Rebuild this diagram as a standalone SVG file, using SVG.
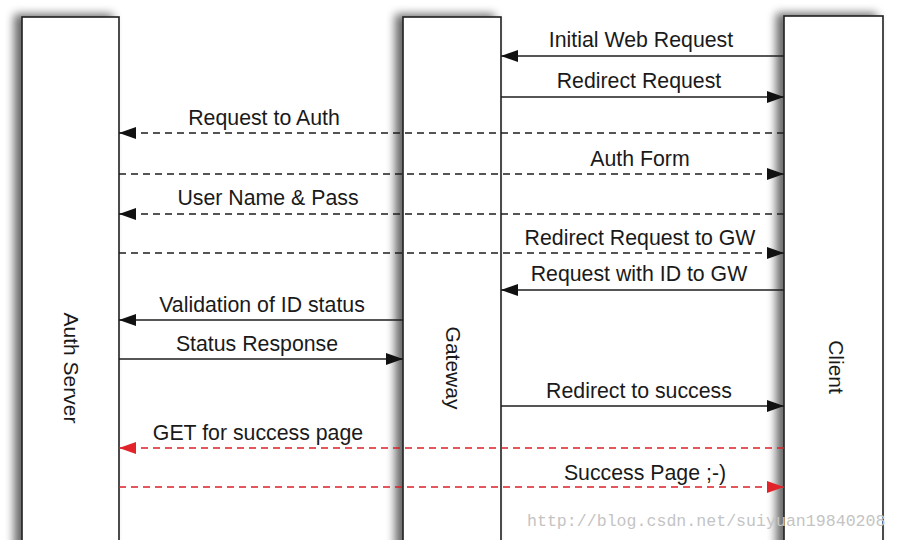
<svg xmlns="http://www.w3.org/2000/svg" width="897" height="540" viewBox="0 0 897 540">
<style>
.box{fill:#fff;stroke:#1e1e1e;stroke-width:1.6;filter:url(#sh)}
.lbl{font-family:"Liberation Sans",Arial,sans-serif;font-size:21.3px;fill:#1a1a1a;text-anchor:middle}
.nl{font-family:"Liberation Sans",Arial,sans-serif;font-size:21px;fill:#1a1a1a;text-anchor:middle}
.s{stroke:#1e1e1e;stroke-width:1.6;fill:none}
.d{stroke:#1e1e1e;stroke-width:1.4;fill:none;stroke-dasharray:7 5}
.r{stroke:#dc1f26;stroke-width:1.3;fill:none;stroke-dasharray:7 5}
.wm{font-family:"Liberation Mono","DejaVu Sans Mono",monospace;font-size:16.6px;fill:#c4c4c4}
</style>
<defs>
<filter id="sh" x="-40%" y="-10%" width="160%" height="120%">
<feGaussianBlur in="SourceAlpha" stdDeviation="5"/>
<feOffset dx="-7" dy="-2" result="b"/>
<feComponentTransfer><feFuncA type="linear" slope="0.6"/></feComponentTransfer>
<feMerge><feMergeNode/><feMergeNode in="SourceGraphic"/></feMerge>
</filter>
<marker id="ab" markerUnits="userSpaceOnUse" markerWidth="17" markerHeight="12" refX="17" refY="6" orient="auto">
<path d="M0,0 L17,6 L0,12 Z" fill="#111"/>
</marker>
<marker id="ar" markerUnits="userSpaceOnUse" markerWidth="17" markerHeight="12" refX="17" refY="6" orient="auto">
<path d="M0,0 L17,6 L0,12 Z" fill="#e0242a"/>
</marker>
</defs>
<rect width="897" height="540" fill="#fff"/>
<g id="auth-server">
<rect class="box" x="22" y="17" width="97" height="540"/>
<text class="nl" transform="translate(71,368) rotate(90)" dy="7">Auth Server</text>
</g>
<g id="gateway">
<rect class="box" x="403" y="17" width="98" height="540"/>
<text class="nl" transform="translate(453,368) rotate(90)" dy="7">Gateway</text>
</g>
<g id="client">
<rect class="box" x="784" y="16" width="99" height="540"/>
<text class="nl" transform="translate(836,367) rotate(90)" dy="7">Client</text>
</g>
<g id="connectors">
<line class="s" x1="784" y1="56" x2="501" y2="56" marker-end="url(#ab)"/>
<line class="s" x1="501" y1="97" x2="784" y2="97" marker-end="url(#ab)"/>
<line class="d" x1="784" y1="133" x2="119" y2="133" marker-end="url(#ab)"/>
<line class="d" x1="119" y1="174" x2="784" y2="174" marker-end="url(#ab)"/>
<line class="d" x1="784" y1="214" x2="119" y2="214" marker-end="url(#ab)"/>
<line class="d" x1="119" y1="253" x2="784" y2="253" marker-end="url(#ab)"/>
<line class="s" x1="784" y1="290" x2="501" y2="290" marker-end="url(#ab)"/>
<line class="s" x1="403" y1="320" x2="119" y2="320" marker-end="url(#ab)"/>
<line class="s" x1="119" y1="359" x2="403" y2="359" marker-end="url(#ab)"/>
<line class="s" x1="501" y1="406" x2="784" y2="406" marker-end="url(#ab)"/>
<line class="r" x1="784" y1="448" x2="119" y2="448" marker-end="url(#ar)"/>
<line class="r" x1="119" y1="487" x2="784" y2="487" marker-end="url(#ar)"/>
<text class="lbl" x="641" y="47">Initial Web Request</text>
<text class="lbl" x="639" y="88">Redirect Request</text>
<text class="lbl" x="264" y="125">Request to Auth</text>
<text class="lbl" x="640" y="166">Auth Form</text>
<text class="lbl" x="268" y="205">User Name &amp; Pass</text>
<text class="lbl" x="640" y="245">Redirect Request to GW</text>
<text class="lbl" x="639" y="281">Request with ID to GW</text>
<text class="lbl" x="262" y="312">Validation of ID status</text>
<text class="lbl" x="257" y="351">Status Response</text>
<text class="lbl" x="639" y="398">Redirect to success</text>
<text class="lbl" x="258" y="440">GET for success page</text>
<text class="lbl" x="645" y="480">Success Page ;-)</text>
</g>
<text class="wm" x="527" y="526">http://blog.csdn.net/suiyuan19840208</text>
</svg>
